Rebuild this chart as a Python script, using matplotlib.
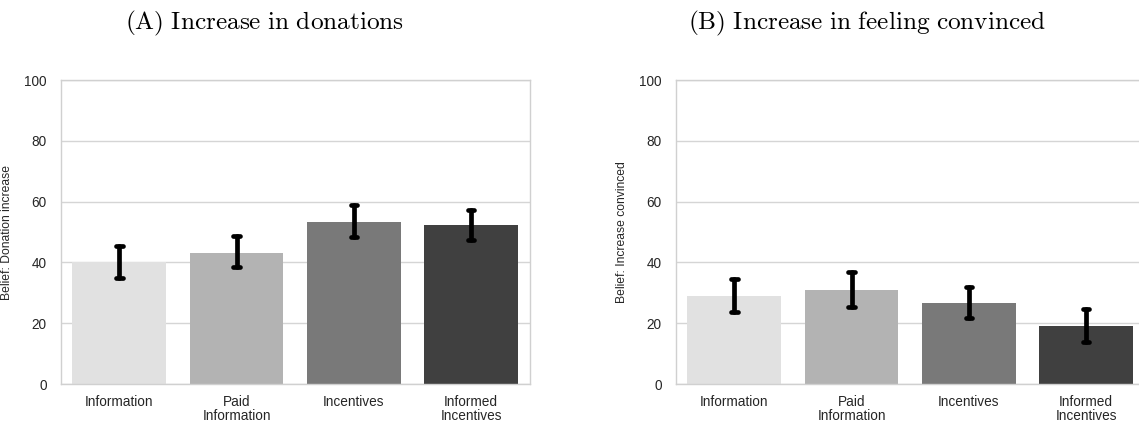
import matplotlib
matplotlib.use("Agg")
import matplotlib.pyplot as plt
import numpy as np

# Treatment groups (x axis)
categories = ["Information", "Paid\nInformation", "Incentives", "Informed\nIncentives"]

# Panel A: belief that donations increase (mean and 95% CI)
donation_mean = [40.0, 43.1, 53.2, 52.3]
donation_low = [34.8, 38.6, 48.4, 47.3]
donation_high = [45.5, 48.7, 59.0, 57.1]

# Panel B: belief that feeling convinced increases (mean and 95% CI)
convinced_mean = [28.8, 30.9, 26.6, 19.0]
convinced_low = [23.7, 25.3, 21.7, 13.9]
convinced_high = [34.5, 36.7, 32.0, 24.7]

bar_colors = ["#e1e1e1", "#b3b3b3", "#797979", "#404040"]

plt.rcParams["font.family"] = ["Liberation Sans", "DejaVu Sans"]
plt.rcParams["mathtext.fontset"] = "cm"

W, H = 1139, 424
fig = plt.figure(figsize=(W / 100, H / 100), dpi=100)


def panel(rect, means, lows, highs, ylabel):
    ax = fig.add_axes(rect)
    x = np.arange(len(categories))
    ax.bar(x, means, width=0.8, color=bar_colors, zorder=2)
    ax.vlines(x, lows, highs, color="black", lw=3.4, zorder=3,
              capstyle="round")
    cap = 0.028
    for xi, lo, hi in zip(x, lows, highs):
        ax.hlines([lo, hi], xi - cap, xi + cap, color="black", lw=3.4,
                  zorder=3, capstyle="round")
    ax.set_xlim(-0.5, len(categories) - 0.5)
    ax.set_ylim(0, 100)
    ax.set_yticks([0, 20, 40, 60, 80, 100])
    ax.set_xticks(x)
    ax.set_xticklabels(categories, fontsize=9.8, color="#262626",
                       linespacing=1.0)
    ax.tick_params(axis="y", labelsize=9.8, labelcolor="#262626",
                   length=0, pad=10)
    ax.tick_params(axis="x", length=0, pad=8)
    ax.yaxis.grid(True, color="#d5d5d5", lw=1.0, zorder=0)
    ax.set_axisbelow(True)
    for s in ax.spines.values():
        s.set_color("#d0d0d0")
        s.set_linewidth(1.0)
    ax.set_ylabel(ylabel, fontsize=8.7, color="#262626", labelpad=8)
    return ax


ax_w = 469 / W
ax_h = 304 / H
ax_b = 40 / H
panel([60.7 / W, ax_b, ax_w, ax_h], donation_mean, donation_low,
      donation_high, "Belief: Donation increase")
panel([675.7 / W, ax_b, ax_w, ax_h], convinced_mean, convinced_low,
      convinced_high, "Belief: Increase convinced")

fig.text(264 / W, 1 - 23 / H, r"$\mathrm{(A)\ Increase\ in\ donations}$",
         ha="center", va="center", fontsize=18.2)
fig.text(867 / W, 1 - 23 / H,
         r"$\mathrm{(B)\ Increase\ in\ feeling\ convinced}$",
         ha="center", va="center", fontsize=18.2)

fig.savefig("out.png", dpi=100)
